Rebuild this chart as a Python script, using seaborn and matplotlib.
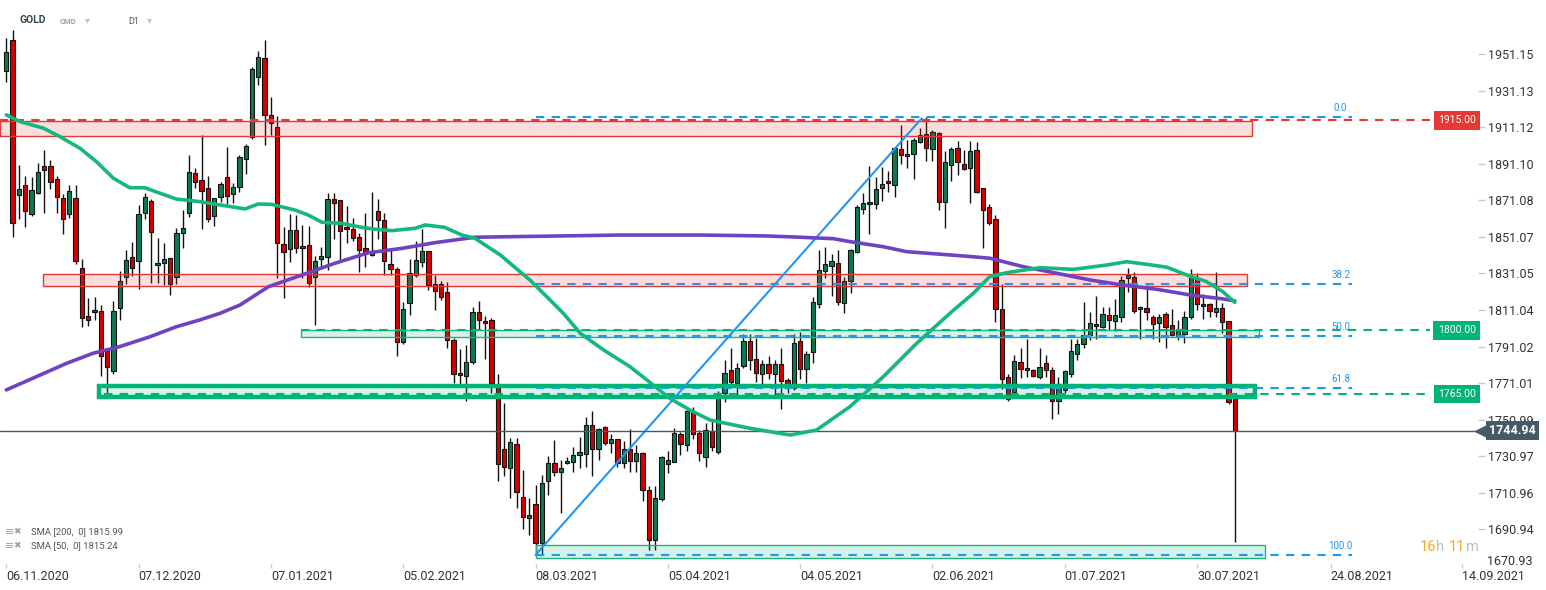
import numpy as np
import pandas as pd
import matplotlib
matplotlib.use('Agg')
import matplotlib.pyplot as plt
import matplotlib.transforms as mtransforms
from matplotlib.patches import Rectangle
import seaborn as sns

# ============================================================================
# DATA (GOLD, D1 candles)
# ============================================================================

opens = [1941.9, 1958.8, 1873.9, 1879.4, 1863.5, 1875.0, 1889.8, 1889.8, 1882.6, 1872.2,
         1863.5, 1872.2, 1833.9, 1807.6, 1810.9, 1810.4, 1788.4, 1777.5, 1812.0, 1829.0,
         1839.9, 1837.7, 1864.0, 1870.6, 1835.5, 1836.6, 1839.4, 1829.0, 1853.1, 1864.0,
         1885.9, 1882.1, 1877.7, 1862.4, 1872.8, 1883.7, 1874.4, 1878.3, 1893.6, 1905.6,
         1938.5, 1948.9, 1917.7, 1911.1, 1847.0, 1844.3, 1854.7, 1844.9, 1846.5, 1829.0,
         1838.8, 1839.9, 1871.7, 1871.1, 1856.4, 1855.3, 1850.9, 1844.9, 1841.0, 1865.1,
         1860.2, 1836.1, 1833.4, 1793.4, 1814.7, 1830.1, 1837.2, 1843.2, 1825.1, 1825.1,
         1820.7, 1794.5, 1776.4, 1774.8, 1782.4, 1809.8, 1804.9, 1805.4, 1769.1, 1734.8,
         1724.4, 1737.5, 1708.5, 1697.0, 1704.7, 1683.3, 1717.2, 1727.1, 1722.2, 1727.1,
         1727.7, 1731.5, 1732.1, 1747.9, 1734.8, 1746.8, 1738.0, 1740.2, 1727.1, 1734.8,
         1728.2, 1732.6, 1712.3, 1685.0, 1707.4, 1726.6, 1727.7, 1743.0, 1737.0, 1755.6,
         1743.5, 1730.4, 1745.0, 1733.5, 1765.4, 1778.0, 1770.9, 1780.2, 1793.9, 1784.1,
         1775.9, 1781.3, 1775.9, 1781.3, 1772.6, 1768.2, 1793.9, 1778.6, 1787.9, 1814.2,
         1832.2, 1835.0, 1836.6, 1814.7, 1826.8, 1842.7, 1866.2, 1870.0, 1869.0, 1877.7,
         1881.6, 1879.4, 1899.1, 1895.3, 1896.4, 1902.9, 1907.3, 1899.1, 1907.8, 1870.0,
         1890.3, 1899.6, 1890.9, 1888.7, 1898.5, 1877.7, 1867.3, 1860.7, 1811.5, 1774.2,
         1766.0, 1782.4, 1778.0, 1778.0, 1774.2, 1781.8, 1778.0, 1761.1, 1767.1, 1775.9,
         1786.8, 1792.3, 1797.2, 1803.2, 1801.6, 1808.2, 1805.0, 1807.1, 1828.4, 1829.0,
         1811.5, 1812.0, 1807.1, 1803.8, 1808.7, 1802.7, 1796.7, 1797.8, 1807.1, 1828.4,
         1814.2, 1814.2, 1810.0, 1812.0, 1804.9, 1762.7]
highs = [1959.9, 1964.4, 1890.4, 1884.5, 1883.9, 1891.6, 1898.7, 1893.2, 1884.5, 1874.4,
         1879.4, 1879.4, 1838.8, 1817.5, 1818.0, 1813.6, 1790.1, 1815.8, 1832.3, 1843.7,
         1848.1, 1868.4, 1875.0, 1871.7, 1850.3, 1847.6, 1839.4, 1855.8, 1865.7, 1895.8,
         1888.7, 1906.7, 1884.3, 1872.2, 1881.0, 1900.2, 1880.4, 1896.0, 1902.0, 1944.0,
         1952.7, 1958.8, 1927.5, 1917.1, 1856.4, 1863.5, 1862.9, 1857.5, 1856.9, 1840.5,
         1845.4, 1875.0, 1875.0, 1871.1, 1867.9, 1861.3, 1853.1, 1864.0, 1875.5, 1871.7,
         1864.0, 1844.3, 1834.5, 1815.3, 1838.8, 1848.7, 1855.3, 1843.2, 1830.1, 1826.8,
         1826.2, 1795.6, 1789.5, 1791.7, 1812.5, 1815.8, 1807.6, 1806.5, 1776.0, 1760.0,
         1740.8, 1740.8, 1723.2, 1707.9, 1715.1, 1720.6, 1731.0, 1739.7, 1728.8, 1730.4,
         1735.9, 1741.4, 1752.3, 1755.6, 1746.5, 1747.5, 1743.0, 1740.2, 1739.1, 1745.7,
         1736.9, 1733.1, 1714.5, 1714.5, 1731.0, 1733.7, 1746.3, 1744.1, 1757.8, 1757.8,
         1745.2, 1749.0, 1750.0, 1766.5, 1783.5, 1790.1, 1781.8, 1797.8, 1797.8, 1795.6,
         1783.5, 1785.7, 1783.5, 1790.1, 1773.7, 1797.8, 1798.9, 1788.4, 1818.0, 1843.7,
         1845.4, 1841.6, 1843.7, 1829.0, 1844.5, 1868.4, 1875.0, 1889.8, 1883.7, 1889.2,
         1887.0, 1900.5, 1912.2, 1904.0, 1905.1, 1910.6, 1916.6, 1909.5, 1908.5, 1898.0,
         1900.2, 1903.5, 1898.5, 1903.5, 1902.9, 1877.7, 1869.0, 1862.9, 1825.1, 1776.0,
         1786.3, 1790.1, 1795.0, 1778.6, 1790.1, 1786.3, 1779.7, 1774.2, 1778.0, 1795.0,
         1795.0, 1815.3, 1809.8, 1818.6, 1812.5, 1812.5, 1817.0, 1829.5, 1834.0, 1831.7,
         1813.0, 1824.6, 1808.2, 1808.7, 1809.8, 1811.5, 1805.4, 1810.4, 1833.4, 1831.1,
         1819.7, 1814.7, 1831.7, 1814.7, 1804.9, 1762.7]
lows = [1935.8, 1850.9, 1860.7, 1856.7, 1862.7, 1874.4, 1864.3, 1877.2, 1864.0, 1852.8,
        1861.3, 1836.1, 1801.6, 1802.1, 1805.4, 1774.8, 1764.9, 1775.9, 1805.4, 1825.1,
        1829.5, 1822.4, 1860.7, 1825.7, 1825.7, 1824.6, 1819.1, 1825.1, 1844.9, 1861.8,
        1877.7, 1855.3, 1859.1, 1856.9, 1870.0, 1869.0, 1869.5, 1875.5, 1885.4, 1904.9,
        1934.1, 1901.3, 1906.7, 1828.4, 1817.5, 1837.2, 1842.1, 1828.4, 1823.5, 1802.7,
        1833.4, 1832.8, 1849.8, 1837.7, 1847.6, 1848.7, 1831.7, 1834.5, 1840.5, 1849.8,
        1830.1, 1830.1, 1785.7, 1792.3, 1808.2, 1829.0, 1834.5, 1821.9, 1810.9, 1816.4,
        1790.1, 1770.9, 1769.3, 1761.1, 1781.3, 1800.5, 1784.1, 1765.5, 1717.6, 1719.9,
        1707.9, 1702.5, 1691.0, 1687.7, 1676.9, 1677.5, 1709.7, 1720.0, 1699.7, 1726.6,
        1722.2, 1724.4, 1725.3, 1720.0, 1728.8, 1737.0, 1732.6, 1724.9, 1724.4, 1722.2,
        1722.2, 1706.3, 1679.4, 1679.4, 1706.3, 1721.6, 1727.7, 1731.5, 1733.7, 1740.2,
        1728.2, 1724.9, 1733.7, 1732.0, 1760.5, 1768.7, 1764.1, 1779.1, 1778.0, 1771.5,
        1768.7, 1773.1, 1764.1, 1756.7, 1765.4, 1767.1, 1773.1, 1771.0, 1781.8, 1812.0,
        1828.4, 1818.6, 1813.6, 1809.3, 1820.2, 1842.1, 1863.5, 1852.5, 1866.2, 1870.6,
        1875.5, 1872.8, 1890.8, 1888.7, 1882.6, 1902.4, 1892.5, 1892.5, 1865.7, 1856.0,
        1881.5, 1884.8, 1887.6, 1869.5, 1875.0, 1844.9, 1857.5, 1804.3, 1767.6, 1761.0,
        1765.5, 1773.7, 1774.2, 1774.2, 1773.5, 1774.2, 1751.2, 1753.9, 1765.4, 1774.5,
        1783.5, 1790.1, 1794.5, 1795.0, 1801.0, 1800.0, 1799.4, 1804.3, 1820.8, 1809.3,
        1795.0, 1805.4, 1795.0, 1793.4, 1790.1, 1796.7, 1794.5, 1792.8, 1806.0, 1810.9,
        1806.0, 1807.1, 1807.1, 1798.3, 1759.4, 1684.2]
closes = [1952.2, 1858.5, 1877.2, 1865.1, 1876.6, 1886.5, 1887.6, 1881.0, 1872.8, 1860.7,
          1876.1, 1837.7, 1806.5, 1805.4, 1809.8, 1785.7, 1779.7, 1810.4, 1826.8, 1838.3,
          1833.9, 1863.5, 1872.8, 1853.6, 1836.6, 1838.8, 1825.1, 1853.1, 1855.8, 1886.5,
          1881.0, 1876.1, 1860.7, 1872.2, 1879.9, 1873.3, 1878.3, 1894.7, 1900.7, 1942.9,
          1949.5, 1917.7, 1913.3, 1847.6, 1842.7, 1854.7, 1844.9, 1846.0, 1825.7, 1837.7,
          1840.5, 1871.7, 1869.5, 1854.2, 1855.3, 1850.3, 1843.8, 1842.1, 1842.1, 1860.2,
          1837.7, 1833.4, 1793.4, 1811.5, 1831.1, 1838.3, 1843.2, 1824.6, 1821.3, 1818.0,
          1794.5, 1775.9, 1775.4, 1782.4, 1809.8, 1805.4, 1803.8, 1770.9, 1726.7, 1725.0,
          1738.6, 1711.2, 1697.5, 1698.6, 1683.3, 1716.2, 1727.1, 1722.2, 1724.4, 1728.2,
          1731.5, 1733.2, 1747.9, 1734.8, 1745.7, 1738.0, 1740.2, 1727.1, 1734.8, 1728.2,
          1732.6, 1712.3, 1685.0, 1708.0, 1730.4, 1728.8, 1743.5, 1737.5, 1755.6, 1743.0,
          1732.6, 1745.2, 1736.0, 1765.4, 1776.4, 1771.5, 1779.1, 1793.9, 1783.5, 1776.4,
          1781.3, 1776.4, 1781.3, 1772.0, 1768.2, 1792.8, 1778.6, 1786.8, 1815.3, 1832.8,
          1836.1, 1837.7, 1815.3, 1826.8, 1843.7, 1867.3, 1869.5, 1869.0, 1877.2, 1879.9,
          1880.5, 1899.6, 1895.8, 1896.4, 1904.0, 1906.7, 1899.6, 1908.4, 1870.0, 1891.9,
          1899.1, 1891.9, 1888.1, 1898.0, 1875.5, 1865.7, 1858.5, 1811.5, 1773.1, 1762.2,
          1783.0, 1778.6, 1779.1, 1774.8, 1779.7, 1778.0, 1761.1, 1770.4, 1777.5, 1788.4,
          1792.3, 1797.2, 1803.7, 1802.1, 1808.7, 1805.4, 1808.2, 1827.3, 1830.1, 1810.4,
          1812.5, 1809.8, 1803.2, 1807.1, 1801.6, 1797.2, 1799.4, 1807.1, 1829.0, 1814.2,
          1813.1, 1810.4, 1812.0, 1804.3, 1760.5, 1744.94]

# moving averages (candle index, value)
sma200_x = [0, 5.4, 9.6, 13.8, 18.0, 22.8, 27.0, 30.7, 33.9, 37.1, 41.6, 46.9, 52.2, 57.5,
            62.8, 68.0, 74.4, 87.9, 97.4, 110.1, 120.7, 126.0, 131.3, 133.9, 139.2, 142.9,
            149.8, 153.5, 156.1, 161.4, 166.7, 172.0, 177.3, 182.6, 187.9, 193.2, 195]
sma200_y = [1767.3, 1775.5, 1781.9, 1787.4, 1791.0, 1796.4, 1801.9, 1805.6, 1809.2, 1813.8,
            1823.8, 1830.2, 1836.7, 1842.4, 1844.8, 1847.9, 1850.9, 1851.6, 1852.1, 1852.1,
            1851.6, 1850.9, 1850.1, 1848.5, 1845.7, 1843.0, 1841.2, 1840.2, 1839.4, 1834.8,
            1831.2, 1827.5, 1824.7, 1822.4, 1819.3, 1817.1, 1815.99]
sma50_x = [0, 2.2, 5.9, 8.5, 11.7, 14.3, 17.0, 19.6, 22.0, 24.4, 27.0, 30.7, 33.9, 37.9,
           40.0, 42.1, 45.8, 47.9, 50.1, 53.2, 56.4, 58.5, 61.2, 64.9, 66.5, 69.6, 72.3,
           74.4, 78.4, 83.1, 85.8, 88.4, 91.1, 94.8, 99.0, 101.7, 105.3, 108.5, 111.7,
           118.0, 124.4, 128.6, 133.9, 139.2, 144.5, 149.8, 153.5, 156.1, 158.8, 164.1,
           169.4, 174.7, 177.8, 181.0, 184.2, 187.4, 190.5, 193.1, 195]
sma50_y = [1917.9, 1914.2, 1910.6, 1906.0, 1899.6, 1892.3, 1883.2, 1878.0, 1878.0, 1875.0,
           1871.8, 1870.4, 1868.6, 1866.4, 1869.1, 1868.9, 1865.8, 1863.1, 1859.1, 1858.5,
           1856.3, 1855.3, 1854.5, 1855.8, 1857.6, 1856.3, 1852.1, 1850.3, 1841.2, 1827.5,
           1818.3, 1809.3, 1798.3, 1789.2, 1780.0, 1772.7, 1762.7, 1756.3, 1750.8, 1746.3,
           1742.6, 1745.3, 1758.1, 1774.5, 1792.8, 1809.3, 1820.2, 1829.3, 1831.5, 1834.2,
           1833.3, 1835.7, 1837.5, 1836.1, 1834.5, 1830.2, 1826.6, 1821.1, 1815.24]

last_price = 1744.94
fib_low, fib_high = 1676.9, 1916.6
fib_ratios = [0.0, 38.2, 50.0, 61.8, 100.0]

x_tick_labels = ['06.11.2020', '07.12.2020', '07.01.2021', '05.02.2021', '08.03.2021',
                 '05.04.2021', '04.05.2021', '02.06.2021', '01.07.2021', '30.07.2021',
                 '24.08.2021', '14.09.2021']
x_tick_index = [0, 21, 42, 63, 84, 105, 126, 147, 168, 189, 210.2, 231.1]
y_tick_labels = ['1951.15', '1931.13', '1911.12', '1891.10', '1871.08', '1851.07', '1831.05',
                 '1811.04', '1791.02', '1771.01', '1750.99', '1730.97', '1710.96', '1690.94']

# ============================================================================
# FIGURE
# ============================================================================

sns.set_theme(style='white')
plt.rcParams['font.family'] = ['Roboto', 'DejaVu Sans']

fig = plt.figure(figsize=(15.46, 5.90), dpi=100)
ax = fig.add_axes([0, 26 / 590, 1478 / 1546, 564 / 590])

df = pd.DataFrame({'open': opens, 'high': highs, 'low': lows, 'close': closes})
df['i'] = np.arange(len(df))
up = df['close'] >= df['open']
body_lo = df[['open', 'close']].min(axis=1)
body_h = (df['close'] - df['open']).abs().clip(lower=0.7)

# candles
ax.vlines(df['i'], df['low'], df['high'], color='#111111', linewidth=1, zorder=2)
ax.bar(df['i'], body_h, bottom=body_lo, width=0.68,
       color=np.where(up, '#0b7a4d', '#d40000'), edgecolor='#111111', linewidth=0.8, zorder=3)

# zones
red_fill = (0.90, 0.22, 0.21, 0.17)
green_fill = (0.0, 0.70, 0.47, 0.17)
zones = [(-1.0, 197.7, 1906.2, 1914.3, red_fill, '#e53935', 1.0),
         (5.8, 196.9, 1824.05, 1830.6, red_fill, '#e53935', 1.0),
         (46.8, 198.8, 1796.2, 1800.0, green_fill, '#1db57f', 1.0),
         (14.7, 198.2, 1763.3, 1769.7, green_fill, '#00b377', 3.2),
         (84.0, 199.8, 1675.0, 1682.4, green_fill, '#1db57f', 1.0)]
for x0, x1, lo, hi, fc, ec, lw in zones:
    ax.add_patch(Rectangle((x0, lo), x1 - x0, hi - lo, facecolor=fc, edgecolor=ec,
                           linewidth=lw, zorder=4))

# horizontal levels
ax.hlines(1915.0, -1.0, 226.0, color='#e53935', linewidth=1.5, linestyle=(0, (4, 3.5)), zorder=5)
ax.hlines(1800.0, 46.8, 226.0, color='#00b377', linewidth=1.5, linestyle=(0, (4, 3.5)), zorder=5)
ax.hlines(1765.0, 15.5, 226.0, color='#00b377', linewidth=1.5, linestyle=(0, (4, 3.5)), zorder=5)

# fibonacci retracement
fib_vals = [fib_high - r / 100 * (fib_high - fib_low) for r in fib_ratios]
for r, v in zip(fib_ratios, fib_vals):
    ax.hlines(v, 84.0, 213.6, color='#2196f3', linewidth=1.5, linestyle=(0, (4, 3.5)), zorder=5)
    ax.text(211.8, v + 2.2, f'{r:.1f}', color='#2196f3', fontsize=7, ha='center',
            va='bottom', zorder=6)
ax.plot([84.0, 145.3], [fib_low, fib_high - 0.6], color='#2196f3', linewidth=1.5, zorder=5)

# moving averages
sns.lineplot(x=sma200_x, y=sma200_y, ax=ax, color='#6f42c1', linewidth=2.6, sort=False,
             estimator=None, zorder=6)
sns.lineplot(x=sma50_x, y=sma50_y, ax=ax, color='#14b77e', linewidth=2.6, sort=False,
             estimator=None, zorder=6)

# last price line
ax.axhline(last_price, color='#455a64', linewidth=1, zorder=5)

# axes
ax.set_xlim(-1.0, 233.6)
ax.set_ylim(1671.97, 1980.8)
for s in ax.spines.values():
    s.set_visible(False)
ax.grid(False)

ax.yaxis.tick_right()
ax.set_yticks([float(t) for t in y_tick_labels])
ax.set_yticklabels(y_tick_labels)
ax.tick_params(axis='y', length=5, width=1, color='#c8c8c8', labelcolor='#333333',
               labelsize=9, pad=2.5, right=True, left=False)
ax.set_xticks(x_tick_index)
ax.set_xticklabels(x_tick_labels, ha='left')
ax.tick_params(axis='x', length=3, width=1, color='#c8c8c8', labelcolor='#333333',
               labelsize=9, pad=1, bottom=True)
ax.set_xlabel('')
ax.set_ylabel('')
ax.annotate('1670.93', xy=(1.0, 1673.6), xycoords=('axes fraction', 'data'),
            xytext=(6.6, 0), textcoords='offset points', ha='left', va='center',
            fontsize=9, color='#333333', annotation_clip=False)

# level labels on the right edge
blend = mtransforms.blended_transform_factory(ax.transAxes, ax.transData)
for v, fc in [(1915.0, '#e53935'), (1800.0, '#00b377'), (1765.0, '#00b377')]:
    ax.text(0.9985, v, f'{v:.2f}', transform=blend, ha='right', va='center', color='white',
            fontsize=7.5, zorder=8,
            bbox=dict(boxstyle='square,pad=0.42', fc=fc, ec='none'))

# current price tag (arrow + box)
ax.plot([1.0025], [last_price], transform=blend, marker='<', markersize=10.5,
        color='#455a64', clip_on=False, zorder=8)
ax.text(1.0075, last_price, f'{last_price:.2f}', transform=blend, ha='left', va='center',
        color='white', fontsize=9, fontweight='bold', zorder=10, clip_on=False,
        bbox=dict(boxstyle='square,pad=0.25', fc='#455a64', ec='none'))

# header
def px(x, y):
    return x / 1546, 1 - y / 590

fig.text(*px(20, 20), 'GOLD', fontsize=7.5, fontweight='bold', color='#37474f', va='center')
fig.text(*px(60, 21), 'CMD', fontsize=5.5, fontweight='bold', color='#a0a0a0', va='center')
fig.text(*px(85, 20), '▾', fontsize=7, color='#c4c4c4', va='center')
fig.text(*px(128, 21), 'D1', fontsize=6.5, color='#555555', va='center')
fig.text(*px(147, 20), '▾', fontsize=7, color='#c4c4c4', va='center')

# indicator legend
for yy, txt in [(532, 'SMA [200,  0] 1815.99'), (546, 'SMA [50,  0] 1815.24')]:
    fig.text(*px(5, yy), '≡', fontsize=8, color='#a0a0a0', va='center')
    fig.text(*px(13, yy), '✖', fontsize=6.5, color='#a0a0a0', va='center')
    fig.text(*px(31, yy), txt, fontsize=6.8, color='#555555', va='center')

# candle countdown
for xx, txt, col in [(1420, '16', '#f5a623'), (1436, 'h', '#bdbdbd'),
                     (1449, '11', '#f5a623'), (1466, 'm', '#bdbdbd')]:
    fig.text(*px(xx, 547), txt, fontsize=10.5, color=col, va='center')

fig.savefig('out.png', dpi=100)
